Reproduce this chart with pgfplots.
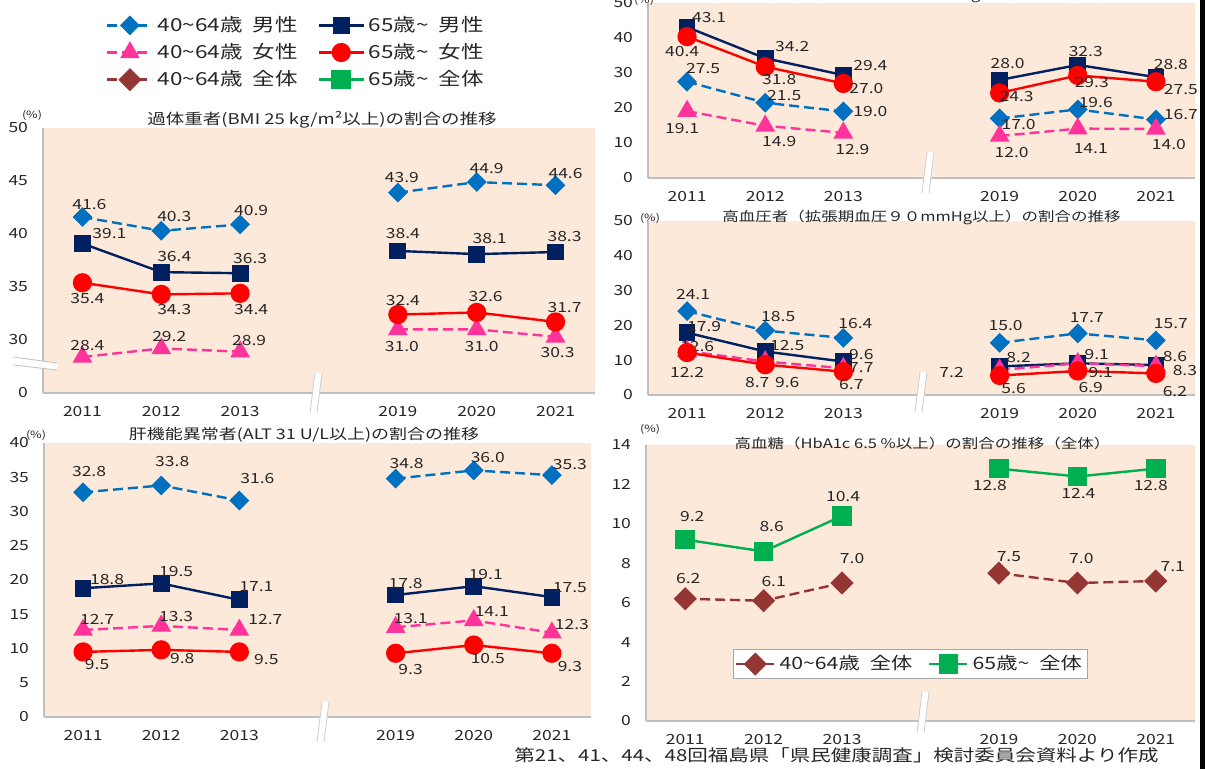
\documentclass[border=0pt]{standalone}
\usepackage{fontspec}
\setmainfont{Noto Sans CJK JP}[FakeStretch=1.25]
\usepackage{pgfplots}
\pgfplotsset{compat=1.18}
\definecolor{cBlue}{HTML}{0070C0}
\definecolor{cNavy}{HTML}{002060}
\definecolor{cPink}{HTML}{FF3399}
\definecolor{cRed}{HTML}{FF0000}
\definecolor{cBrown}{HTML}{943634}
\definecolor{cGreen}{HTML}{00B050}
\definecolor{bgPink}{HTML}{FDE9D9}
\definecolor{axGray}{HTML}{BFBFBF}
\definecolor{txt}{HTML}{262626}
\pgfplotsset{
  panel/.style={
    scale only axis, clip=false,
    axis x line*=bottom, axis y line*=left,
    axis line style={draw=axGray, line width=0.8pt},
    axis background/.style={fill=bgPink},
    xmin=-0.5, xmax=6.5,
    xtick={0,1,2,4,5,6},
    xticklabels={2011,2012,2013,2019,2020,2021},
    major tick length=0pt,
    tick label style={font=\fontsize{7}{8}\selectfont, text=txt},
    xticklabel style={yshift=-3pt},
    yticklabel style={xshift=-4pt},
    unbounded coords=jump,
    nodes near coords,
    point meta=explicit symbolic,
    visualization depends on={value \thisrow{dx}\as\dx},
    visualization depends on={value \thisrow{dy}\as\dy},
    every node near coord/.append style={font=\fontsize{7}{8}\selectfont, text=txt, anchor=center, inner sep=0pt, xshift={\dx*0.5pt}, yshift={\dy*0.5pt}},
    /pgf/number format/assume math mode=true,
  },
  sBlue/.style={color=cBlue, line width=1.2pt, dash pattern=on 5pt off 2.5pt, mark=square*, mark size=2.9pt, mark options={solid, rotate=45}},
  sNavy/.style={color=cNavy, line width=1.2pt, mark=square*, mark size=3.6pt, mark options={solid}},
  sPink/.style={color=cPink, line width=1.2pt, dash pattern=on 5pt off 2.5pt, mark=triangle*, mark size=4.5pt, mark options={solid}},
  sRed/.style={color=cRed, line width=1.2pt, mark=*, mark size=4.2pt, mark options={solid}},
  sBrown/.style={color=cBrown, line width=1.2pt, dash pattern=on 5pt off 2.5pt, mark=square*, mark size=3.5pt, mark options={solid, rotate=45}},
  sGreen/.style={color=cGreen, line width=1.2pt, mark=square*, mark size=4.3pt, mark options={solid}},
}
\tikzset{
  ttl/.style={font=\fontsize{7.2}{8}\selectfont, text=txt, inner sep=0pt},
  pct/.style={font=\fontsize{5}{6}\selectfont, text=txt, inner sep=0pt},
}
\newcommand{\brk}[3]{%
  \fill[white] ({#1-1},#2) -- ({#1+6},#2) -- ({#1+1},#3) -- ({#1-6},#3) -- cycle;
  \draw[black!20, line width=0.4pt] ({#1-1},#2) -- ({#1-6},#3) ({#1+6},#2) -- ({#1+1},#3);}
\begin{document}
\begin{tikzpicture}
\path[use as bounding box] (0,0) rectangle (603pt,384.5pt);
\clip (0,0) rectangle (603pt,384.5pt);

% ---------- Panel 1: BMI ----------
\begin{axis}[panel, at={(21.5pt,188pt)}, anchor=south west, width=276pt, height=132.5pt,
  ymin=0, ymax=25, ytick={0,5,10,15,20,25}, yticklabels={0,30,35,40,45,50},
  legend columns=2,
  legend style={at={(0.103,1.453)}, anchor=north west, draw=none, fill=none,
    font=\fontsize{9}{10}\selectfont, text=txt, row sep=0.5pt,
    /tikz/every even column/.append style={column sep=8pt}},
  legend cell align=left,
  legend image code/.code={\draw[mark repeat=2,mark phase=2,#1] plot coordinates {(0pt,0pt) (11.25pt,0pt) (22.5pt,0pt)};}]
\addplot[sBlue] table[x=x, y expr=\thisrow{y}-25, meta=y] {
x y dx dy
0 41.6 7 13
1 40.3 13 14
2 40.9 11 14
3 nan 0 0
4 43.9 4 15
5 44.9 10 14
6 44.6 10 12
};
\addlegendentry{40\textasciitilde 64歳\hspace{5pt}男性}
\addplot[sNavy] table[x=x, y expr=\thisrow{y}-25, meta=y] {
x y dx dy
0 39.1 27 10
1 36.4 13 16
2 36.3 10 15
3 nan 0 0
4 38.4 5 17
5 38.1 13 16
6 38.3 9 15
};
\addlegendentry{65歳\textasciitilde\hspace{5pt}男性}
\addplot[sPink] table[x=x, y expr=\thisrow{y}-25, meta=y] {
x y dx dy
0 28.4 5 11
1 29.2 8 12
2 28.9 9 11
3 nan 0 0
4 31.0 4 -17
5 31.0 5 -17
6 30.3 2 -16
};
\addlegendentry{40\textasciitilde 64歳\hspace{5pt}女性}
\addplot[sRed] table[x=x, y expr=\thisrow{y}-25, meta=y] {
x y dx dy
0 35.4 5 -16
1 34.3 13 -15
2 34.4 11 -16
3 nan 0 0
4 32.4 5 14
5 32.6 9 16
6 31.7 9 14
};
\addlegendentry{65歳\textasciitilde\hspace{5pt}女性}
\addlegendimage{sBrown}
\addlegendentry{40\textasciitilde 64歳\hspace{5pt}全体}
\addlegendimage{sGreen}
\addlegendentry{65歳\textasciitilde\hspace{5pt}全体}
\node[ttl, font=\fontsize{7.4}{8}\selectfont] at (rel axis cs:0.5,1) [yshift=4pt, xshift=1.5pt] {過体重者(BMI 25 kg/m²以上)の割合の推移};
\node[pct] at (rel axis cs:0,1) [xshift=-5.5pt, yshift=6.5pt] {(\%)};
\end{axis}

% ---------- Panel 2: systolic ----------
\begin{axis}[panel, at={(324pt,295.5pt)}, anchor=south west, width=273.5pt, height=87.5pt,
  ymin=0, ymax=50, ytick={0,10,...,50}]
\addplot[sBlue] table[x=x, y=y, meta=y] {
x y dx dy
0 27.5 16 13
1 21.5 19 7
2 19.0 27 0
3 nan 0 0
4 17.0 19 -6
5 19.6 18 7
6 16.7 25 5
};
\addplot[sNavy] table[x=x, y=y, meta=y] {
x y dx dy
0 43.1 22 10
1 34.2 27 12
2 29.4 27 10
3 nan 0 0
4 28.0 8 16
5 32.3 8 13
6 28.8 15 13
};
\addplot[sPink] table[x=x, y=y, meta=y] {
x y dx dy
0 19.1 -5 -17
1 14.9 14 -16
2 12.9 9 -17
3 nan 0 0
4 12.0 12 -17
5 14.1 13 -20
6 14.0 13 -16
};
\addplot[sRed] table[x=x, y=y, meta=y] {
x y dx dy
0 40.4 -5 -15
1 31.8 14 -13
2 27.0 23 -5
3 nan 0 0
4 24.3 17 -4
5 29.3 14 -7
6 27.5 25 -8
};
\node[ttl, font=\fontsize{6.6}{8}\selectfont] at (rel axis cs:0.5,1) [yshift=3.5pt] {高血圧者（収縮期血圧１４０mmHg以上）の割合の推移};
\node[pct] at (rel axis cs:0,1) [xshift=-2pt, yshift=1.5pt] {(\%)};
\end{axis}

% ---------- Panel 3: diastolic ----------
\begin{axis}[panel, at={(324pt,187pt)}, anchor=south west, width=273.5pt, height=87pt,
  ymin=0, ymax=50, ytick={0,10,...,50}]
\addplot[sBlue] table[x=x, y=y, meta=y] {
x y dx dy
0 24.1 6 17
1 18.5 13 14
2 16.4 12 14
3 nan 0 0
4 15.0 6 17
5 17.7 9 16
6 15.7 15 17
};
\addplot[sNavy] table[x=x, y=y, meta=y] {
x y dx dy
0 17.9 17 6
1 12.5 22 6
2 9.6 18 7
3 nan 0 0
4 8.2 19 9
5 9.1 19 9
6 8.6 19 9
};
\addplot[sPink] table[x=x, y=y, meta=y] {
x y dx dy
0 12.6 10 5
1 9.6 22 -21
2 7.7 18 1
3 nan 0 0
4 7.2 -48 -3
5 9.1 23 -9
6 8.3 29 -4
};
\addplot[sRed] table[x=x, y=y, meta=y] {
x y dx dy
0 12.2 0 -20
1 8.7 -8 -18
2 6.7 8 -13
3 nan 0 0
4 5.6 14 -13
5 6.9 13 -17
6 6.2 19 -18
};
\node[ttl, font=\fontsize{6.6}{8}\selectfont] at (rel axis cs:0.5,1) [yshift=1.5pt] {高血圧者（拡張期血圧９０mmHg以上）の割合の推移};
\node[pct] at (rel axis cs:0,1) [xshift=1pt, yshift=1.5pt] {(\%)};
\end{axis}

% ---------- Panel 4: ALT ----------
\begin{axis}[panel, at={(22pt,26pt)}, anchor=south west, width=273.5pt, height=137pt,
  ymin=0, ymax=40, ytick={0,5,...,40}]
\addplot[sBlue] table[x=x, y=y, meta=y] {
x y dx dy
0 32.8 6 21
1 33.8 11 24
2 31.6 18 22
3 nan 0 0
4 34.8 11 15
5 36.0 14 13
6 35.3 18 11
};
\addplot[sNavy] table[x=x, y=y, meta=y] {
x y dx dy
0 18.8 24 9
1 19.5 15 12
2 17.1 17 13
3 nan 0 0
4 17.8 10 12
5 19.1 12 12
6 17.5 18 10
};
\addplot[sPink] table[x=x, y=y, meta=y] {
x y dx dy
0 12.7 14 10
1 13.3 15 9
2 12.7 26 10
3 nan 0 0
4 13.1 15 9
5 14.1 18 9
6 12.3 20 8
};
\addplot[sRed] table[x=x, y=y, meta=y] {
x y dx dy
0 9.5 14 -13
1 9.8 21 -9
2 9.5 27 -8
3 nan 0 0
4 9.3 15 -16
5 10.5 14 -13
6 9.3 18 -13
};
\node[ttl] at (rel axis cs:0.5,1) [yshift=4pt, xshift=-6.75pt] {肝機能異常者(ALT 31 U/L以上)の割合の推移};
\node[pct] at (rel axis cs:0,1) [xshift=-4pt, yshift=4pt] {(\%)};
\end{axis}

% ---------- Panel 5: HbA1c ----------
\begin{axis}[panel, at={(323pt,24pt)}, anchor=south west, width=274.5pt, height=138pt,
  ymin=0, ymax=14, ytick={0,2,...,14},
  legend columns=2,
  legend style={at={(0.158,0.261)}, anchor=north west, draw=black!35, fill=white,
    font=\fontsize{8.5}{9}\selectfont, text=txt, inner sep=1pt,
    /tikz/every even column/.append style={column sep=6pt}},
  legend image code/.code={\draw[mark repeat=2,mark phase=2,#1] plot coordinates {(0pt,0pt) (9.5pt,0pt) (19pt,0pt)};}]
\addplot[sBrown] table[x=x, y=y, meta=y] {
x y dx dy
0 6.2 3 20
1 6.1 10 19
2 7.0 10 24
3 nan 0 0
4 7.5 10 17
5 7.0 4 24
6 7.1 17 14
};
\addlegendentry{40\textasciitilde 64歳\hspace{5pt}全体}
\addplot[sGreen] table[x=x, y=y, meta=y] {
x y dx dy
0 9.2 7 23
1 8.6 8 25
2 10.4 1 19
3 nan 0 0
4 12.8 -9 -17
5 12.4 1 -17
6 12.8 -5 -17
};
\addlegendentry{65歳\textasciitilde\hspace{5pt}全体}
\node[ttl, font=\fontsize{6.6}{8}\selectfont] at (rel axis cs:0.5,1) [yshift=1pt, xshift=1pt] {高血糖（HbA1c 6.5 \%以上）の割合の推移（全体）};
\node[pct] at (rel axis cs:0,1) [xshift=2pt, yshift=8pt] {(\%)};
\end{axis}

% ---------- decorations in pixel coordinates ----------
\begin{scope}[x=0.5pt, y=-0.5pt, yshift=384.5pt]
\brk{316}{373}{413}
\brk{928}{152}{193}
\brk{921}{372}{412}
\brk{323}{702}{742}
\brk{923}{692}{733}
\fill[white] (13,357) -- (57,363) -- (57,370) -- (13,365) -- cycle;
\draw[black!25, line width=0.4pt] (13,357) -- (57,363) (13,365) -- (57,370);
\fill[black] (1200,0) rectangle (1205,769);
\node[font=\fontsize{8.2}{9}\selectfont, text=txt, inner sep=0pt] at (836.5,755) {第21、41、44、48回福島県「県民健康調査」検討委員会資料より作成};
\end{scope}
\end{tikzpicture}
\end{document}
